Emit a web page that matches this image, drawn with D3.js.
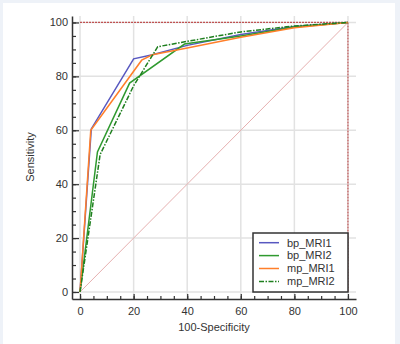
<!DOCTYPE html>
<html>
<head>
<meta charset="utf-8">
<script src="https://cdn.jsdelivr.net/npm/d3@7"></script>
<style>
  body { margin: 0; background: #eef2f8; }
  svg { display: block; font-family: "Liberation Sans", Arial, sans-serif; }
</style>
</head>
<body>
<svg id="roc"></svg>
<script>
// ROC curves, values (x = 100-Specificity, y = Sensitivity)
const seriesNames = ["bp_MRI1", "bp_MRI2", "mp_MRI1", "mp_MRI2"];

const bpMri1X = [0, 4.2, 20, 27, 40, 60, 80, 100];
const bpMri1Y = [0, 60.5, 86.5, 88, 91.5, 95.5, 98.5, 100];

const bpMri2X = [0, 6.5, 18.5, 39, 60, 80, 100];
const bpMri2Y = [0, 52, 77.5, 92, 95, 98.3, 100];

const mpMri1X = [0, 4, 23, 27, 40, 60, 80, 100];
const mpMri1Y = [0, 60, 86, 88, 90.5, 94.5, 98, 100];

const mpMri2X = [0, 7.5, 20, 29, 40, 60, 80, 100];
const mpMri2Y = [0, 51, 76.5, 91, 93, 96.5, 98.7, 100];

const tickValues = [0, 20, 40, 60, 80, 100];

const colors = {
    "bp_MRI1": "#5858c0",
    "bp_MRI2": "#2f9a2f",
    "mp_MRI1": "#ff7f2a",
    "mp_MRI2": "#1f7f1f"
};
const dashes = {
    "bp_MRI1": null,
    "bp_MRI2": null,
    "mp_MRI1": null,
    "mp_MRI2": "5,1.5,1.5,1.5"
};

const width = 400;
const height = 344;

const svg = d3.select("#roc")
    .attr("width", width)
    .attr("height", height);

// white panel
svg.append("rect")
    .attr("x", 3).attr("y", 3)
    .attr("width", 392).attr("height", 341)
    .attr("fill", "#fff");

const x = d3.scaleLinear().domain([-3, 103]).range([72, 356]);
const y = d3.scaleLinear().domain([-2.6, 102.4]).range([299, 16]);

// grid
svg.append("g").selectAll("line")
    .data(tickValues)
    .enter().append("line")
    .attr("x1", d => x(d)).attr("x2", d => x(d))
    .attr("y1", 16).attr("y2", 299)
    .attr("stroke", "#e2e2e2").attr("stroke-width", 1.5);

svg.append("g").selectAll("line")
    .data(tickValues)
    .enter().append("line")
    .attr("x1", 72).attr("x2", 356)
    .attr("y1", d => y(d)).attr("y2", d => y(d))
    .attr("stroke", "#e2e2e2").attr("stroke-width", 1.5);

// reference lines
svg.append("line")
    .attr("x1", x(0)).attr("y1", y(0))
    .attr("x2", x(100)).attr("y2", y(100))
    .attr("stroke", "#e6b0b0").attr("stroke-width", 1);

svg.append("line")
    .attr("x1", x(0)).attr("y1", y(100))
    .attr("x2", x(100)).attr("y2", y(100))
    .attr("stroke", "#c05050").attr("stroke-width", 1.2)
    .attr("stroke-dasharray", "2,1");

svg.append("line")
    .attr("x1", x(100)).attr("y1", y(100))
    .attr("x2", x(100)).attr("y2", y(0))
    .attr("stroke", "#c05050").attr("stroke-width", 1.2)
    .attr("stroke-dasharray", "2,1");

// curves
const seriesData = {
    "bp_MRI1": d3.zip(bpMri1X, bpMri1Y),
    "bp_MRI2": d3.zip(bpMri2X, bpMri2Y),
    "mp_MRI1": d3.zip(mpMri1X, mpMri1Y),
    "mp_MRI2": d3.zip(mpMri2X, mpMri2Y)
};

const line = d3.line()
    .x(d => x(d[0]))
    .y(d => y(d[1]));

seriesNames.forEach(name => {
    svg.append("path")
        .datum(seriesData[name])
        .attr("d", line)
        .attr("fill", "none")
        .attr("stroke", colors[name])
        .attr("stroke-width", 1.5)
        .attr("stroke-dasharray", dashes[name]);
});

// axes
const axisColor = "#333";

const xAxis = svg.append("g")
    .attr("transform", "translate(0,299)")
    .call(d3.axisBottom(x).tickValues(tickValues).tickSizeInner(-5).tickSizeOuter(0).tickPadding(8));
svg.append("g")
    .attr("transform", "translate(0,299)")
    .call(d3.axisBottom(x).tickValues(d3.range(0, 101, 5)).tickSizeInner(-3).tickSizeOuter(0).tickFormat(""))
    .select(".domain").remove();

const yAxis = svg.append("g")
    .attr("transform", "translate(72,0)")
    .call(d3.axisLeft(y).tickValues(tickValues).tickSizeInner(-7).tickSizeOuter(0).tickPadding(4));
svg.append("g")
    .attr("transform", "translate(72,0)")
    .call(d3.axisLeft(y).tickValues(d3.range(0, 101, 5)).tickSizeInner(-4).tickSizeOuter(0).tickFormat(""))
    .select(".domain").remove();

svg.selectAll(".domain")
    .attr("stroke", axisColor).attr("stroke-width", 1.5);
svg.selectAll(".tick line")
    .attr("stroke", axisColor).attr("stroke-width", 1.2);
svg.selectAll(".tick text")
    .attr("fill", "#333")
    .style("font-size", "11px");

// axis titles
svg.append("text")
    .attr("x", 214).attr("y", 331)
    .attr("text-anchor", "middle")
    .attr("fill", "#333")
    .style("font-size", "11px")
    .text("100-Specificity");

svg.append("text")
    .attr("transform", "translate(34,157) rotate(-90)")
    .attr("text-anchor", "middle")
    .attr("fill", "#333")
    .style("font-size", "11px")
    .text("Sensitivity");

// legend
const legend = svg.append("g");
legend.append("rect")
    .attr("x", 253).attr("y", 233)
    .attr("width", 95).attr("height", 59)
    .attr("fill", "#fff")
    .attr("stroke", "#333").attr("stroke-width", 1.5);

const item = legend.selectAll(".item")
    .data(seriesNames)
    .enter().append("g")
    .attr("class", "item")
    .attr("transform", (d, i) => `translate(0,${242.7 + i * 12.9})`);

item.append("line")
    .attr("x1", 259).attr("x2", 279)
    .attr("stroke", d => colors[d])
    .attr("stroke-width", 1.5)
    .attr("stroke-dasharray", d => dashes[d]);

item.append("text")
    .attr("x", 287)
    .attr("dy", "0.35em")
    .attr("fill", "#333")
    .style("font-size", "11px")
    .text(d => d);
</script>
</body>
</html>
